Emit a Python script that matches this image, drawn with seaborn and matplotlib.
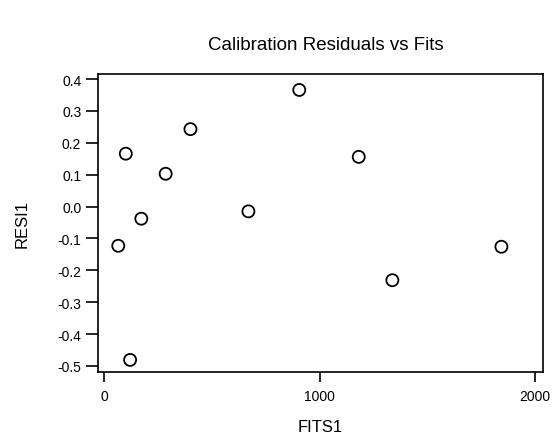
import matplotlib
matplotlib.use("Agg")
import matplotlib.pyplot as plt
import numpy as np
import pandas as pd
import seaborn as sns

# values
fits = [66, 101, 121, 173, 286, 401, 670, 906, 1182, 1338, 1844]
resid = [-0.123, 0.166, -0.481, -0.038, 0.103, 0.243, -0.015, 0.366, 0.156, -0.231, -0.126]
x_ticks = [0, 1000, 2000]
y_ticks = [0.4, 0.3, 0.2, 0.1, 0.0, -0.1, -0.2, -0.3, -0.4, -0.5]

df = pd.DataFrame({"FITS1": fits, "RESI1": resid})

sns.set_style("ticks")
plt.rcParams["font.family"] = ["Liberation Sans", "DejaVu Sans"]
plt.rcParams["text.color"] = "black"
plt.rcParams["axes.labelcolor"] = "black"
plt.rcParams["xtick.color"] = "black"
plt.rcParams["ytick.color"] = "black"

fig = plt.figure(figsize=(5.53, 4.39), dpi=100)
ax = fig.add_axes([98 / 553, 1 - 373 / 439, 445 / 553, 298 / 439])

sns.scatterplot(
    data=df, x="FITS1", y="RESI1", ax=ax,
    s=75, facecolor="none", edgecolor="black", linewidth=1.3,
)

ax.set_xlim(-28, 2037)
ax.set_ylim(-0.519, 0.416)
ax.set_xticks(x_ticks)
ax.set_yticks(y_ticks)
ax.set_yticklabels([f"{v:.1f}" for v in y_ticks])
ax.tick_params(axis="both", labelsize=10, width=1.2)
ax.tick_params(axis="y", length=9, pad=3)
ax.tick_params(axis="x", length=7, pad=5)
for sp in ax.spines.values():
    sp.set_visible(True)
    sp.set_linewidth(1.2)
    sp.set_color("black")

ax.set_xlabel("FITS1", fontsize=12, labelpad=12)
ax.set_ylabel("RESI1", fontsize=12, labelpad=20)
fig.text(326 / 553, 1 - 45 / 439, "Calibration Residuals vs Fits",
         ha="center", va="center", fontsize=13.5)

fig.savefig("out.png", dpi=100)
